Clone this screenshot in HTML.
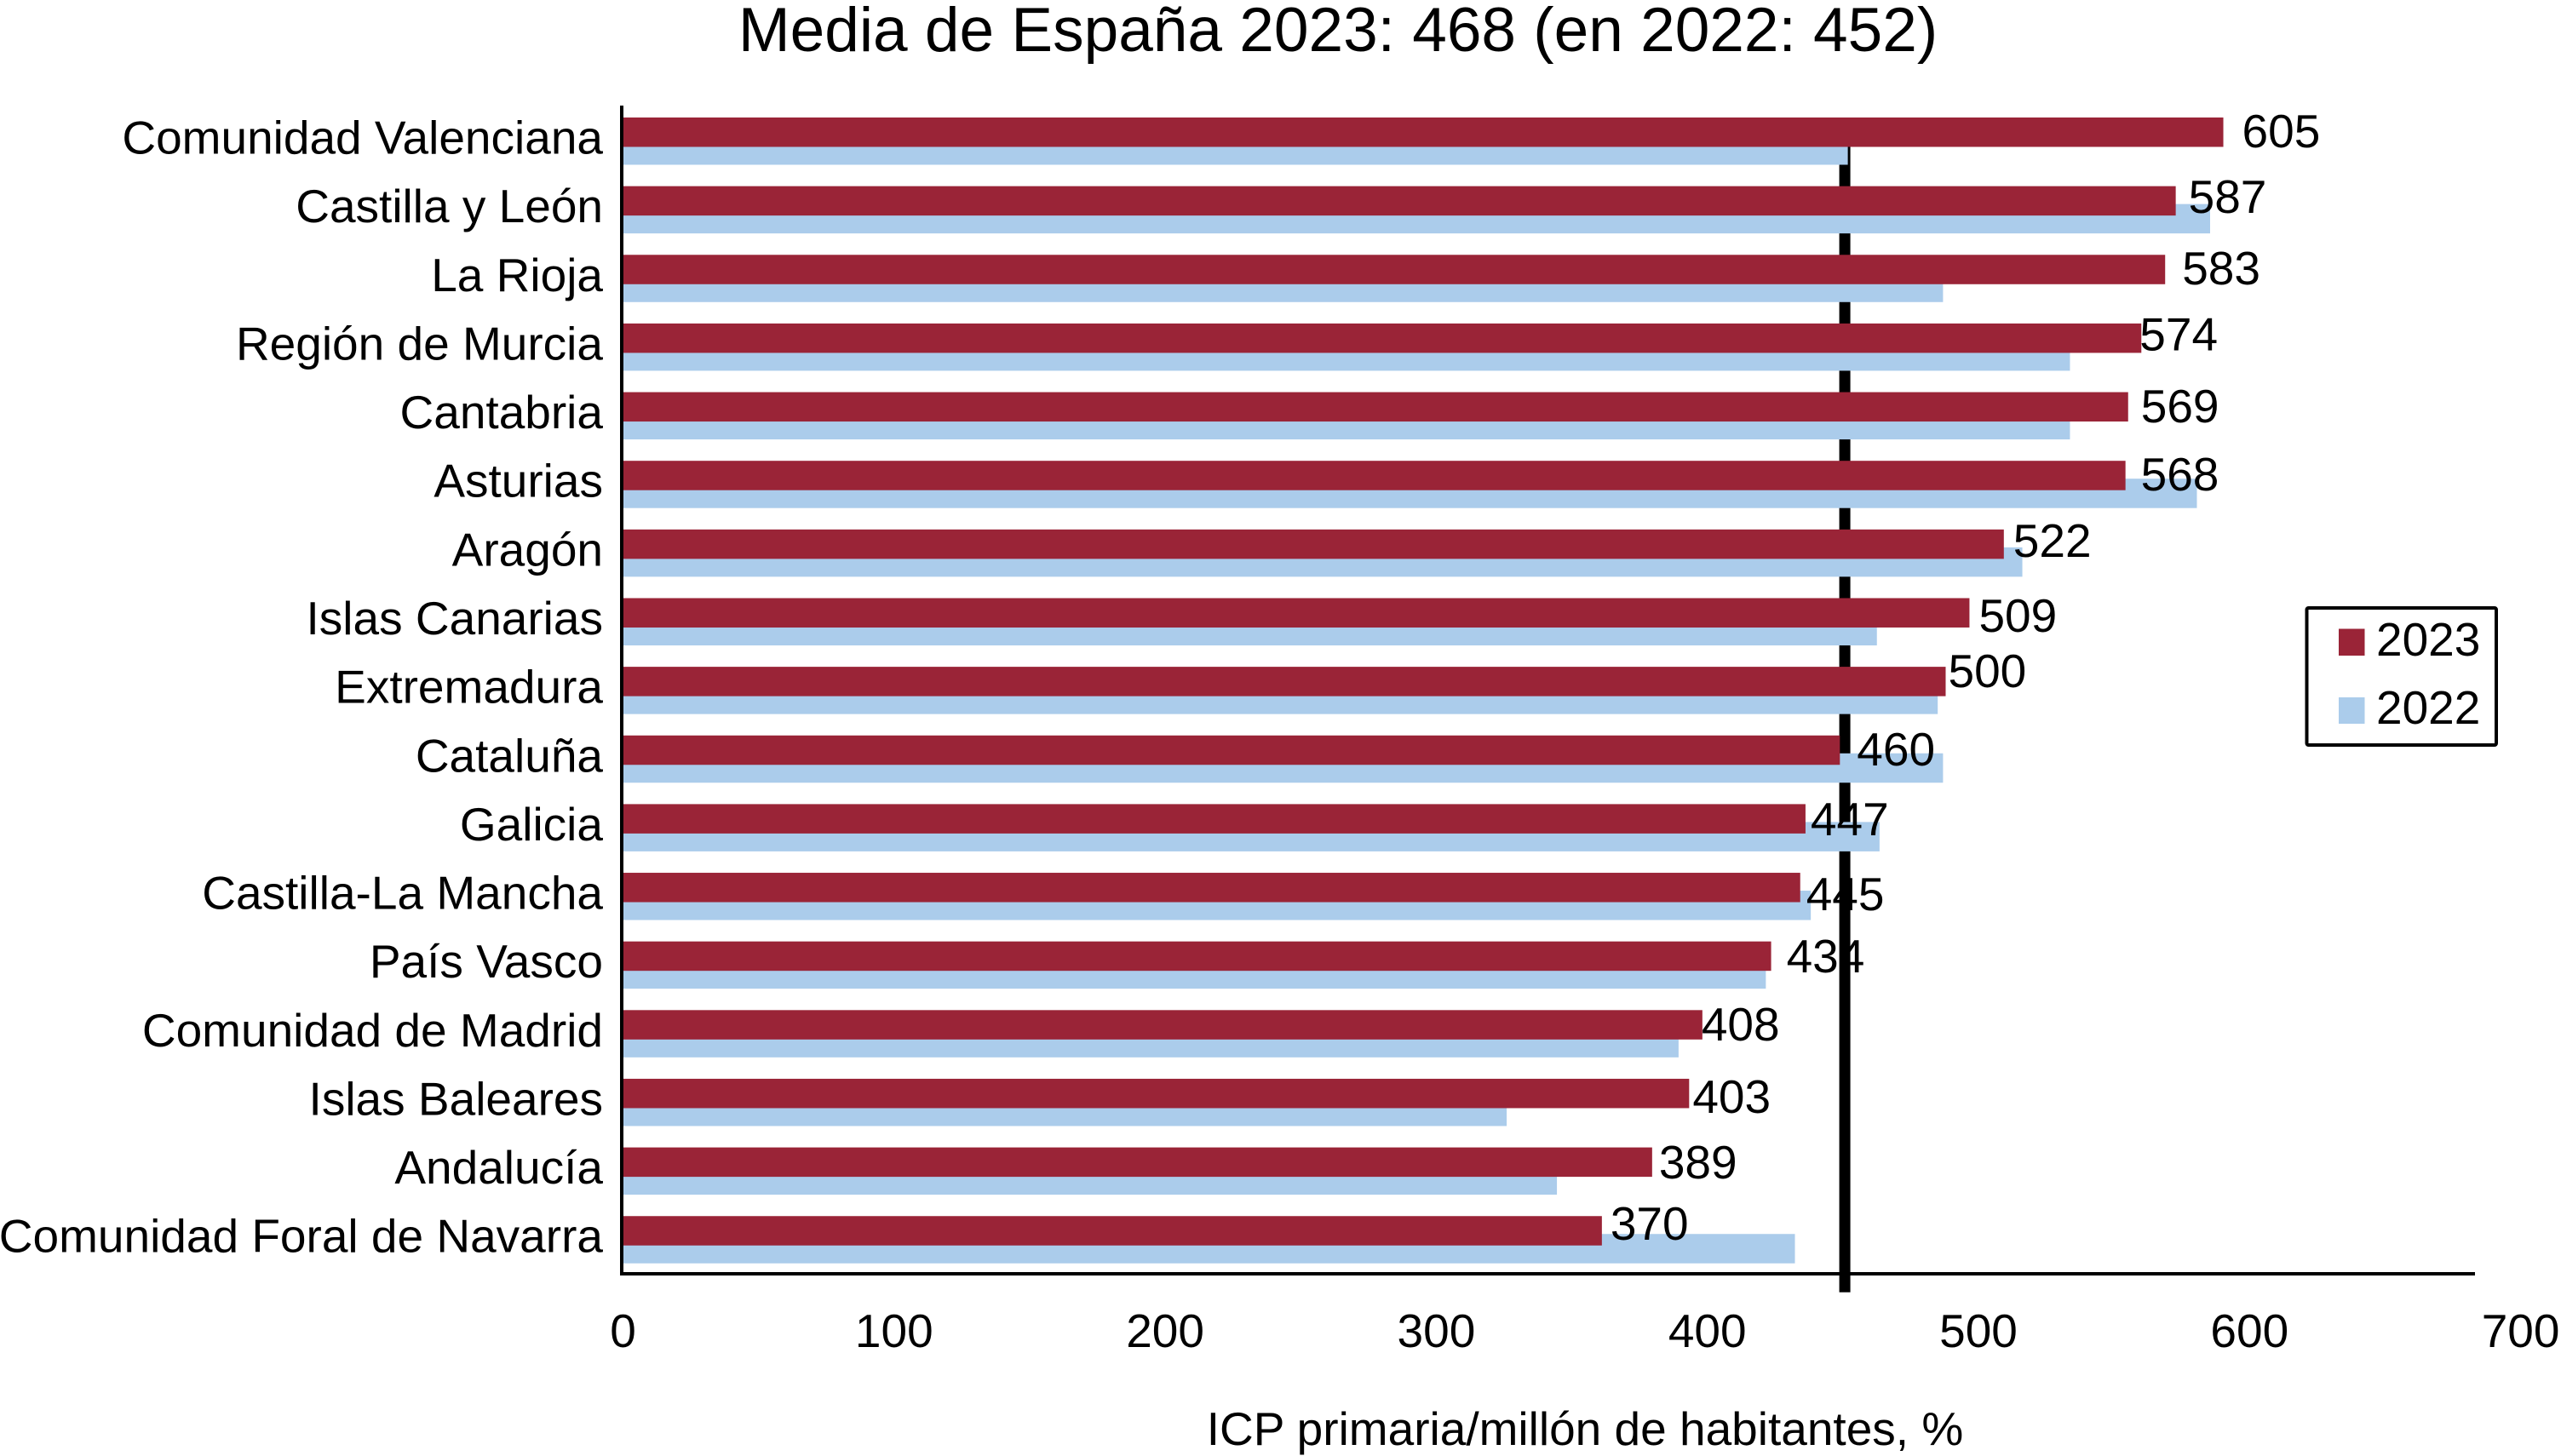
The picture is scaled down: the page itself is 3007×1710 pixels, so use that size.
<!DOCTYPE html>
<html lang="es">
<head>
<meta charset="utf-8">
<title>Media de España 2023</title>
<style>
html,body{margin:0;padding:0;background:#fff;}
body{width:3007px;height:1710px;overflow:hidden;}
svg{display:block;}
text{font-family:"Liberation Sans",Arial,sans-serif;fill:#000;}
</style>
</head>
<body>
<svg id="chart" xmlns="http://www.w3.org/2000/svg" width="3007" height="1710" viewBox="0 0 3007 1710">
  <rect x="0" y="0" width="3007" height="1710" fill="#ffffff"/>
  <text x="1571" y="60" font-size="73" text-anchor="middle">Media de España 2023: 468 (en 2022: 452)</text>
  <g id="reference-layer"></g>
  <g id="blue-layer"></g>
  <g id="red-layer"></g>
  <rect x="728" y="124" width="4" height="1374" fill="#000"/>
  <rect x="728" y="1494" width="2178" height="4" fill="#000"/>
  <g id="category-layer"></g>
  <g id="value-layer"></g>
  <g id="tick-layer"></g>
  <text x="1861" y="1697" font-size="55" text-anchor="middle">ICP primaria/millón de habitantes, %</text>
  <g>
    <rect x="2708.5" y="714" width="222.5" height="161" rx="2" fill="#fff" stroke="#000" stroke-width="4"/>
    <rect x="2746" y="738.5" width="30.5" height="31.5" fill="#9a2437"/>
    <text x="2790" y="770" font-size="55">2023</text>
    <rect x="2746" y="819" width="30.5" height="31" fill="#abcceb"/>
    <text x="2790" y="850" font-size="55">2022</text>
  </g>
</svg>
<script>
const categories = ["Comunidad Valenciana","Castilla y León","La Rioja","Región de Murcia","Cantabria","Asturias","Aragón","Islas Canarias","Extremadura","Cataluña","Galicia","Castilla-La Mancha","País Vasco","Comunidad de Madrid","Islas Baleares","Andalucía","Comunidad Foral de Navarra"];
const values2023 = [605,587,583,574,569,568,522,509,500,460,447,445,434,408,403,389,370];
const values2022 = [463,600,499,547,547,595,529,474,497,499,475,449,432,399,334,353,443];
const tickValues = [0,100,200,300,400,500,600,700];
const referenceValue = 450.7;

const labelNudgeX = [22,15,20,-2,15,18,11,11,3,20,6,7,18,-1,4,8,10];
const labelNudgeY = [35,31.4,34.7,31.6,35.4,34.8,32.2,39.5,23.9,35.2,36.6,44,36.3,35.7,40,36.4,27.8];

const NS = "http://www.w3.org/2000/svg";
function xBar(v){ return 732 + 3.105 * v; }
function xTick(v){ return 731.5 + 3.183 * v; }
function yRow(i){ return 138 + 80.64 * i; }
function slug(s){ return s.toLowerCase().normalize("NFD").replace(/[\u0300-\u036f]/g,"").replace(/[^a-z0-9]+/g,"-"); }

const blueLayer = document.getElementById("blue-layer");
const redLayer = document.getElementById("red-layer");
const categoryLayer = document.getElementById("category-layer");
const valueLayer = document.getElementById("value-layer");
const tickLayer = document.getElementById("tick-layer");
const referenceLayer = document.getElementById("reference-layer");

const refLine = document.createElementNS(NS, "rect");


refLine.setAttribute("x", xTick(referenceValue) - 6.5);
refLine.setAttribute("y", 150);
refLine.setAttribute("width", 13);
refLine.setAttribute("height", 1367.7);
refLine.setAttribute("fill", "#000");
referenceLayer.appendChild(refLine);

categories.forEach(function(name, i){
  const key = slug(name);

  const blue = document.createElementNS(NS, "rect");
  
  
  blue.setAttribute("x", 732);
  blue.setAttribute("y", yRow(i) + 21);
  blue.setAttribute("width", xBar(values2022[i]) - 732);
  blue.setAttribute("height", 34.5);
  blue.setAttribute("fill", "#abcceb");
  blueLayer.appendChild(blue);

  const red = document.createElementNS(NS, "rect");
  
  
  red.setAttribute("x", 732);
  red.setAttribute("y", yRow(i));
  red.setAttribute("width", xBar(values2023[i]) - 732);
  red.setAttribute("height", 34.5);
  red.setAttribute("fill", "#9a2437");
  redLayer.appendChild(red);

  const cat = document.createElementNS(NS, "text");
  
  
  cat.setAttribute("x", 708);
  cat.setAttribute("y", yRow(i) + 42.5);
  cat.setAttribute("font-size", 55);
  cat.setAttribute("text-anchor", "end");
  cat.textContent = name;
  categoryLayer.appendChild(cat);

  const val = document.createElementNS(NS, "text");
  
  
  val.setAttribute("x", xBar(values2023[i]) + labelNudgeX[i]);
  val.setAttribute("y", yRow(i) + labelNudgeY[i]);
  val.setAttribute("font-size", 55);
  val.textContent = String(values2023[i]);
  valueLayer.appendChild(val);
});

tickValues.forEach(function(v){
  const t = document.createElementNS(NS, "text");
  
  
  t.setAttribute("x", xTick(v));
  t.setAttribute("y", 1582);
  t.setAttribute("font-size", 55);
  t.setAttribute("text-anchor", "middle");
  t.textContent = String(v);
  tickLayer.appendChild(t);
});
</script>
</body>
</html>
